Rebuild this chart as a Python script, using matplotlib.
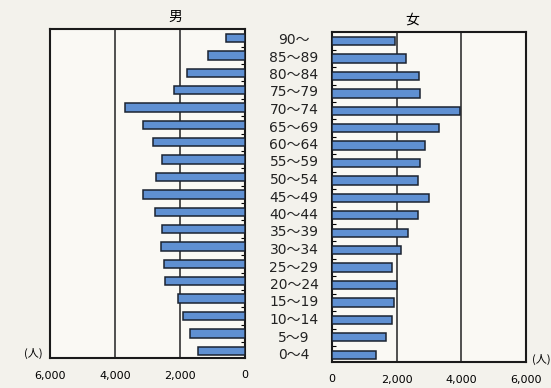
import numpy as np
import matplotlib.pyplot as plt
from matplotlib.ticker import FixedLocator

plt.rcParams['font.family'] = ['Noto Sans CJK JP', 'DejaVu Sans']

ages = ['0～4', '5～9', '10～14', '15～19', '20～24', '25～29', '30～34', '35～39',
        '40～44', '45～49', '50～54', '55～59', '60～64', '65～69', '70～74',
        '75～79', '80～84', '85～89', '90～']
male = [1450, 1700, 1900, 2050, 2470, 2500, 2570, 2550, 2760, 3150,
        2750, 2550, 2820, 3150, 3700, 2200, 1800, 1150, 600]
female = [1370, 1670, 1870, 1920, 2010, 1860, 2130, 2340, 2660, 3000,
          2660, 2730, 2870, 3300, 3950, 2720, 2700, 2290, 1940]
ticks = [0, 2000, 4000, 6000]
tick_labels = ['0', '2,000', '4,000', '6,000']

bar_col = '#5f90d2'
edge_col = '#1b2331'
W, H = 551, 388

fig = plt.figure(figsize=(5.51, 3.88), dpi=100, facecolor='#f3f2ec')
axL = fig.add_axes([50 / W, (H - 358) / H, 195 / W, 329 / H])
axR = fig.add_axes([332 / W, (H - 362) / H, 194 / W, 330 / H])

y = np.arange(len(ages))
for ax, vals in ((axL, male), (axR, female)):
    ax.set_facecolor('#faf9f4')
    ax.barh(y, vals, height=0.48, color=bar_col, edgecolor=edge_col,
            linewidth=1.1, zorder=3)
    for t in (2000, 4000):
        ax.axvline(t, color='#222222', lw=1.1, zorder=2)
    ax.set_xlim(0, 6000)
    ax.set_ylim(-0.42, len(ages) - 0.48)
    ax.set_xticks(ticks)
    ax.set_xticklabels(tick_labels, fontsize=8, family='DejaVu Sans')
    ax.tick_params(axis='x', length=0, pad=9)
    ax.set_yticks([])
    ax.yaxis.set_minor_locator(FixedLocator(y[:-1] + 0.5))
    for s in ax.spines.values():
        s.set_linewidth(1.5)
        s.set_color('#1a1a1a')

axL.invert_xaxis()
axL.yaxis.tick_right()
axL.tick_params(axis='y', which='minor', direction='in', length=3, width=0.8,
                right=True, left=False)
axR.tick_params(axis='y', which='minor', direction='in', length=3, width=0.8)

for i, a in enumerate(ages):
    yy = 355 - i * 17.5
    fig.text(294 / W, (H - yy) / H, a, ha='center', va='center', fontsize=10,
             color='#222222', family=['DejaVu Sans', 'Noto Sans CJK JP'])

fig.text(175 / W, (H - 17) / H, '男', ha='center', va='center', fontsize=10)
fig.text(412 / W, (H - 20) / H, '女', ha='center', va='center', fontsize=10)
fig.text(33 / W, (H - 353) / H, '(人)', ha='center', va='center', fontsize=8)
fig.text(541 / W, (H - 359) / H, '(人)', ha='center', va='center', fontsize=8)

fig.savefig('out.png', dpi=100, facecolor=fig.get_facecolor())
